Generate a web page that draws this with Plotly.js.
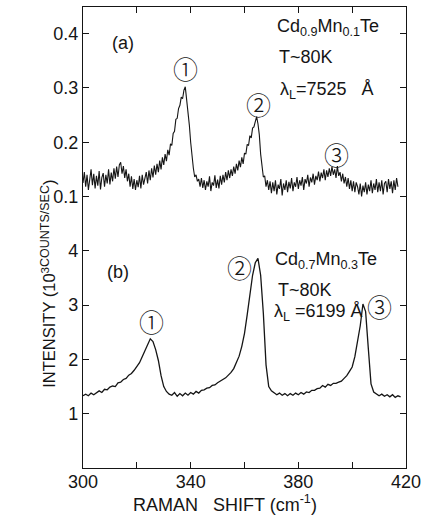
<!DOCTYPE html>
<html>
<head>
<meta charset="utf-8">
<script src="https://cdn.plot.ly/plotly-3.0.1.min.js"></script>
<style>html,body{margin:0;padding:0;background:#fff;}#chart{width:424px;height:522px;}</style>
</head>
<body>
<div id="chart"></div>
<script>
// Raman shift sampling (cm^-1)
const shiftStartA = 300, shiftStepA = 0.5;
const shiftStartB = 300, shiftStepB = 1;

// (a) Cd0.9Mn0.1Te, intensity in 10^3 counts/sec, 300 -> 417 cm^-1 every 0.5
const intensityA = [
  0.125,0.145,0.118,0.140,0.112,0.136,0.150,0.121,0.142,0.115,
  0.138,0.120,0.147,0.113,0.135,0.143,0.118,0.140,0.124,0.150,
  0.122,0.144,0.128,0.152,0.133,0.155,0.136,0.158,0.163,0.142,
  0.156,0.134,0.150,0.128,0.142,0.118,0.137,0.114,0.132,0.112,
  0.130,0.117,0.138,0.115,0.140,0.122,0.136,0.145,0.124,0.148,
  0.130,0.152,0.135,0.157,0.140,0.160,0.145,0.166,0.150,0.172,
  0.158,0.178,0.165,0.186,0.176,0.197,0.194,0.216,0.220,0.242,
  0.244,0.262,0.268,0.283,0.280,0.296,0.302,0.281,0.262,0.232,
  0.200,0.168,0.152,0.136,0.140,0.128,0.132,0.118,0.134,0.116,
  0.130,0.112,0.128,0.118,0.137,0.110,0.126,0.120,0.139,0.116,
  0.131,0.115,0.138,0.122,0.140,0.126,0.145,0.130,0.148,0.134,
  0.150,0.138,0.155,0.142,0.160,0.148,0.166,0.154,0.172,0.160,
  0.180,0.178,0.196,0.194,0.212,0.208,0.226,0.228,0.236,0.247,
  0.234,0.214,0.178,0.160,0.136,0.138,0.118,0.130,0.112,0.128,
  0.106,0.126,0.110,0.130,0.104,0.122,0.114,0.132,0.102,0.124,
  0.112,0.130,0.108,0.127,0.115,0.134,0.110,0.126,0.118,0.136,
  0.114,0.130,0.120,0.136,0.112,0.132,0.124,0.140,0.118,0.135,
  0.126,0.142,0.122,0.138,0.130,0.146,0.128,0.144,0.134,0.150,
  0.130,0.148,0.136,0.152,0.138,0.155,0.140,0.150,0.134,0.156,
  0.138,0.145,0.128,0.142,0.124,0.136,0.118,0.134,0.114,0.130,
  0.110,0.128,0.108,0.126,0.118,0.104,0.124,0.100,0.120,0.108,
  0.126,0.104,0.122,0.110,0.130,0.106,0.124,0.112,0.132,0.108,
  0.126,0.110,0.130,0.104,0.124,0.128,0.108,0.132,0.114,0.128,
  0.106,0.130,0.112,0.134,0.118
];

// (b) Cd0.7Mn0.3Te, intensity in 10^3 counts/sec, 300 -> 418 cm^-1 every 1
const intensityB = [
  1.33,1.36,1.33,1.38,1.35,1.39,1.42,1.39,1.45,1.44,
  1.49,1.51,1.50,1.57,1.58,1.63,1.65,1.71,1.74,1.80,
  1.86,1.94,2.05,2.17,2.29,2.38,2.33,2.18,1.98,1.70,
  1.50,1.41,1.36,1.34,1.39,1.32,1.37,1.33,1.38,1.34,
  1.39,1.36,1.41,1.38,1.43,1.44,1.47,1.48,1.52,1.53,
  1.57,1.60,1.64,1.66,1.71,1.76,1.83,1.93,2.06,2.24,
  2.48,2.82,3.20,3.55,3.78,3.86,3.55,2.85,1.90,1.50,
  1.42,1.38,1.35,1.38,1.34,1.37,1.33,1.37,1.34,1.38,
  1.35,1.39,1.36,1.40,1.39,1.43,1.43,1.46,1.47,1.52,
  1.49,1.54,1.52,1.56,1.56,1.58,1.60,1.65,1.70,1.78,
  1.86,2.05,2.30,2.62,3.02,2.88,2.20,1.55,1.40,1.36,
  1.33,1.36,1.32,1.35,1.31,1.35,1.30,1.33,1.31
];

const xTickVals = [300,320,340,360,380,400,420];
const xTickText = ['300','','340','','380','','420'];
const yTickValsB = [1,2,3,4];
const yTickTextB = ['1','2','3','4'];
const yTickValsA = [0.1,0.2,0.3,0.4];
const yTickTextA = ['0.1','0.2','0.3','0.4'];

const shiftA = intensityA.map((_, i) => shiftStartA + i * shiftStepA);
const shiftB = intensityB.map((_, i) => shiftStartB + i * shiftStepB);

const FONT = 'Liberation Sans, Arial, sans-serif';
const CIRC = 'Noto Sans CJK JP, DejaVu Sans, sans-serif';
const INK = '#151515';

const traces = [
  {x: shiftB, y: intensityB, type: 'scatter', mode: 'lines', yaxis: 'y',
   line: {color: INK, width: 1.3}, hoverinfo: 'skip'},
  {x: shiftA, y: intensityA, type: 'scatter', mode: 'lines', yaxis: 'y2',
   line: {color: INK, width: 1.1}, hoverinfo: 'skip'}
];

const axisCommon = {
  showgrid: false, zeroline: false, showline: true, linecolor: INK, linewidth: 1.2,
  ticks: 'inside', ticklen: 6, tickwidth: 1.1, tickcolor: INK, mirror: 'ticks',
  tickfont: {family: FONT, size: 18, color: INK}
};

function ann(text, x, y, yref, opts) {
  return Object.assign({text: text, x: x, y: y, xref: 'x', yref: yref, showarrow: false,
    font: {family: FONT, size: 18, color: INK}, xanchor: 'left', yanchor: 'middle'}, opts || {});
}
function circ(text, x, y, yref) {
  return {text: text, x: x, y: y, xref: 'x', yref: yref, showarrow: false,
    font: {family: CIRC, size: 25, color: INK, weight: 300}, xanchor: 'center', yanchor: 'middle'};
}

const layout = {
  width: 424, height: 522,
  margin: {l: 83, r: 18, t: 7, b: 54},
  paper_bgcolor: '#fff', plot_bgcolor: '#fff',
  showlegend: false,
  xaxis: Object.assign({}, axisCommon, {range: [300, 420], tickvals: xTickVals, ticktext: xTickText,
    ticklabelstandoff: -3}),
  yaxis: Object.assign({}, axisCommon, {range: [0, 8.49], tickvals: yTickValsB, ticktext: yTickTextB}),
  yaxis2: Object.assign({}, axisCommon, {range: [-0.4, 0.449], tickvals: yTickValsA, ticktext: yTickTextA,
    overlaying: 'y', side: 'left'}),
  annotations: [
    ann('(a)', 314.9, 0.383, 'y2', {xanchor: 'center'}),
    ann('Cd<sub>0.9</sub>Mn<sub>0.1</sub>Te', 371.4, 0.412, 'y2'),
    ann('T~80K', 372.0, 0.357, 'y2'),
    ann('λ<sub>L</sub>=7525&nbsp;&nbsp;&nbsp;Å', 372.3, 0.296, 'y2'),
    circ('①', 338.0, 0.337, 'y2'),
    circ('②', 365.2, 0.270, 'y2'),
    circ('③', 394.3, 0.178, 'y2'),
    ann('(b)', 313.0, 3.61, 'y', {xanchor: 'center'}),
    ann('Cd<sub>0.7</sub>Mn<sub>0.3</sub>Te', 370.5, 3.83, 'y'),
    ann('T~80K', 371.6, 3.28, 'y'),
    ann('λ<sub>L</sub>&nbsp;=6199&nbsp;Å', 370.3, 2.87, 'y'),
    circ('①', 325.3, 2.71, 'y'),
    circ('②', 358.3, 3.70, 'y'),
    circ('③', 410.1, 2.98, 'y'),
    {text: 'RAMAN&nbsp;&nbsp;&nbsp;SHIFT (cm<sup>-1</sup>)', xref: 'paper', yref: 'paper', x: 0.44, y: -0.078,
     showarrow: false, xanchor: 'center', yanchor: 'middle', font: {family: FONT, size: 18, color: INK}},
    {text: 'INTENSITY (10<sup>3</sup><sup><span style="font-size:12.5px">COUNTS/SEC</span></sup>)', xref: 'paper', yref: 'paper',
     x: -0.108, y: 0.40, textangle: -90, showarrow: false, xanchor: 'center', yanchor: 'middle',
     font: {family: FONT, size: 16.5, color: INK}}
  ]
};

Plotly.newPlot('chart', traces, layout, {staticPlot: true, displayModeBar: false});
</script>
</body>
</html>
